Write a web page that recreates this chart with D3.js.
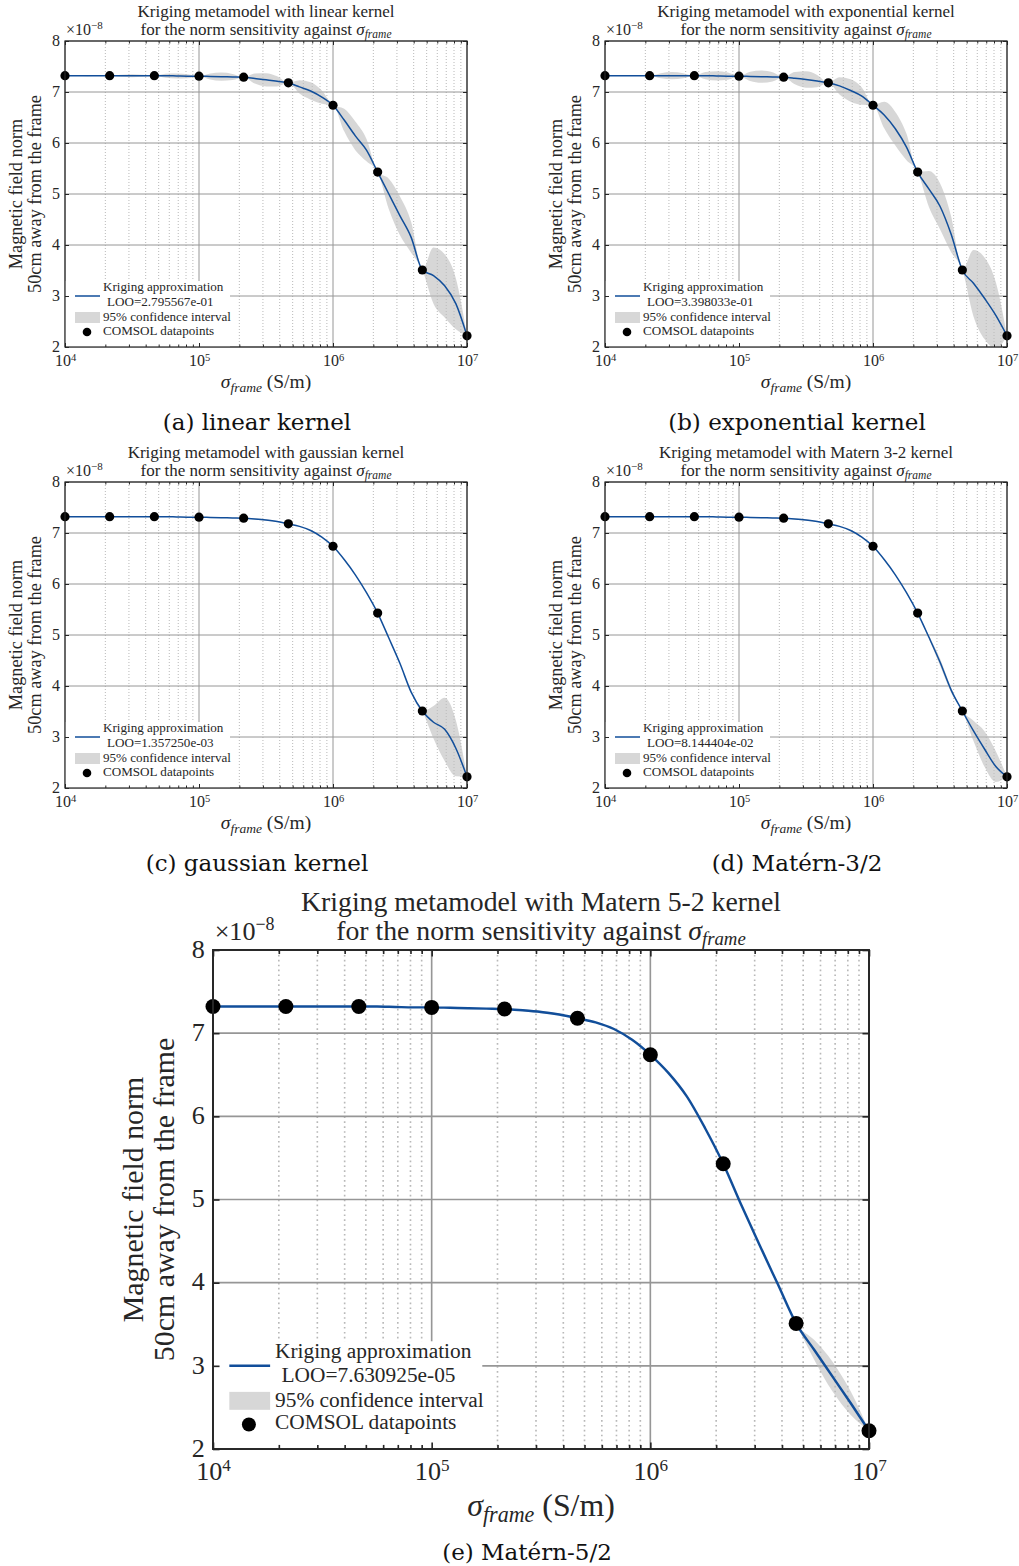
<!DOCTYPE html>
<html><head><meta charset="utf-8">
<script src="https://cdn.jsdelivr.net/npm/d3@7"></script>
<style>
body{margin:0;background:#fff;}
svg text{font-family:"Liberation Serif","Times New Roman",serif;fill:#262626;}
svg text.caption{font-family:"DejaVu Serif",serif;fill:#111;}
</style></head><body>
<svg id="chart" width="1019" height="1566"></svg>
<script>
// ---------------- data ----------------
const sigmaData = [1e4, 2.154e4, 4.642e4, 1e5, 2.154e5, 4.642e5, 1e6, 2.154e6, 4.642e6, 1e7];
const normData = [7.32, 7.32, 7.32, 7.31, 7.29, 7.18, 6.74, 5.43, 3.51, 2.22];

const sigmaGrid = [
 1.000e4,1.212e4,1.468e4,1.778e4,2.154e4,2.610e4,3.162e4,3.831e4,4.642e4,5.623e4,6.813e4,8.254e4,
 1.000e5,1.212e5,1.468e5,1.778e5,2.154e5,2.610e5,3.162e5,3.831e5,4.642e5,5.623e5,6.813e5,8.254e5,
 1.000e6,1.212e6,1.468e6,1.778e6,2.154e6,2.610e6,3.162e6,3.831e6,4.642e6,5.623e6,6.813e6,8.254e6,
 1.000e7];

const meanLinear = [7.32,7.32,7.32,7.32, 7.32,7.32,7.32,7.32, 7.32,7.32,7.315,7.31,
 7.31,7.305,7.30,7.295, 7.29,7.265,7.24,7.21, 7.18,7.10,7.02,6.90,
 6.74,6.45,6.14,5.86, 5.43,5.00,4.57,4.15, 3.51,3.40,3.20,2.85, 2.22];
const ciLinear = [0,.007,.01,.007, 0,.02,.03,.02, 0,.04,.05,.04,
 0,.06,.08,.06, 0,.10,.13,.10, 0,.13,.17,.13,
 0,.22,.28,.22, 0,.30,.38,.30, 0,.55,.62,.50, 0];

const meanExponential = [7.32,7.32,7.32,7.32, 7.32,7.32,7.32,7.32, 7.32,7.32,7.315,7.31,
 7.31,7.305,7.30,7.295, 7.29,7.27,7.245,7.215, 7.18,7.12,7.03,6.92,
 6.74,6.55,6.28,5.92, 5.43,5.10,4.76,4.21, 3.51,3.25,2.95,2.62, 2.22];
const ciExponential = [0,.003,.005,.003, 0,.05,.07,.05, 0,.07,.09,.07,
 0,.09,.12,.09, 0,.12,.16,.12, 0,.17,.22,.17,
 0,.26,.33,.26, 0,.35,.45,.35, 0,.65,.80,.65, 0];

const meanGaussian = [7.32,7.32,7.32,7.32, 7.32,7.32,7.32,7.32, 7.32,7.32,7.315,7.31,
 7.31,7.305,7.30,7.295, 7.29,7.275,7.255,7.225, 7.18,7.13,7.05,6.92,
 6.74,6.48,6.18,5.83, 5.43,4.94,4.44,3.88, 3.51,3.29,3.15,2.78, 2.22];
const ciGaussian = [0,0,0,0, 0,0,0,0, 0,0,0,0,
 0,0,0,0, 0,.01,.015,.01, 0,0,0,0,
 0,0,0,0, 0,0,0,0, 0,.32,.62,.55, 0];

const meanMatern32 = [7.32,7.32,7.32,7.32, 7.32,7.32,7.32,7.32, 7.32,7.32,7.315,7.31,
 7.31,7.305,7.30,7.295, 7.29,7.275,7.255,7.225, 7.18,7.13,7.05,6.92,
 6.74,6.48,6.18,5.83, 5.43,4.96,4.47,3.92, 3.51,3.12,2.76,2.42, 2.22];
const ciMatern32 = [0,0,0,0, 0,0,0,0, 0,0,0,0,
 0,0,0,0, 0,.01,.015,.01, 0,0,0,0,
 0,0,0,0, 0,.03,.07,.05, 0,.20,.35,.30, 0];

const meanMatern52 = [7.32,7.32,7.32,7.32, 7.32,7.32,7.32,7.32, 7.32,7.32,7.315,7.31,
 7.31,7.305,7.30,7.295, 7.29,7.275,7.255,7.225, 7.18,7.13,7.05,6.92,
 6.74,6.52,6.24,5.86, 5.43,4.93,4.45,3.98, 3.51,3.19,2.87,2.55, 2.22];
const ciMatern52 = [0,0,0,0, 0,0,0,0, 0,0,0,0,
 0,0,0,0, 0,.01,.015,.01, 0,0,0,0,
 0,0,0,0, 0,0,0,0, 0,.12,.18,.14, 0];

const kernelNames = ['linear', 'exponential', 'gaussian', 'Matern 3-2', 'Matern 5-2'];
const looValues = ['2.795567e-01', '3.398033e-01', '1.357250e-03', '8.144404e-02', '7.630925e-05'];
const captions = ['(a) linear kernel', '(b) exponential kernel', '(c) gaussian kernel', '(d) Matérn-3/2', '(e) Matérn-5/2'];
const xTickExps = [4, 5, 6, 7];
const yTicks = [2, 3, 4, 5, 6, 7, 8];

// ---------------- drawing ----------------
const svg = d3.select('#chart');
svg.append('rect').attr('width', 1019).attr('height', 1566).attr('fill', '#fff');
const defs = svg.append('defs');
const SERIF = '"Liberation Serif","Times New Roman",serif';
const INK = '#262626';
const BLUE = '#114e9a';

const panels = [
  {L: 65,  T: 41,  W: 402, H: 306, s: 1, mean: meanLinear, ci: ciLinear, capX: 257, capY: 430},
  {L: 605, T: 41,  W: 402, H: 306, s: 1, mean: meanExponential, ci: ciExponential, capX: 797, capY: 430},
  {L: 65,  T: 482, W: 402, H: 306, s: 1, mean: meanGaussian, ci: ciGaussian, capX: 257, capY: 871},
  {L: 605, T: 482, W: 402, H: 306, s: 1, mean: meanMatern32, ci: ciMatern32, capX: 797, capY: 871},
  {L: 213, T: 950, W: 656, H: 499, s: 1.632, mean: meanMatern52, ci: ciMatern52, capX: 527, capY: 1560}
];

panels.forEach((p, idx) => {
  const s = p.s, L = p.L, T = p.T, R = p.L + p.W, B = p.T + p.H;
  const x = d3.scaleLog().domain([1e4, 1e7]).range([L, R]);
  const y = d3.scaleLinear().domain([2, 8]).range([B, T]);
  const g = svg.append('g');
  const clipId = 'clip' + idx;
  defs.append('clipPath').attr('id', clipId).append('rect')
    .attr('x', L).attr('y', T).attr('width', p.W).attr('height', p.H);

  // grid
  const allX = x.ticks();
  const isMajor = v => Math.abs(Math.log10(v) - Math.round(Math.log10(v))) < 1e-9;
  const minorX = allX.filter(v => !isMajor(v));
  const majorX = xTickExps.map(e => Math.pow(10, e));
  const grid = g.append('g');
  grid.selectAll('.gmin').data(minorX).join('line')
    .attr('x1', d => x(d)).attr('x2', d => x(d)).attr('y1', T).attr('y2', B)
    .attr('stroke', '#b8b8b8').attr('stroke-width', 1 * s).attr('stroke-dasharray', `${1 * s},${2 * s}`);
  grid.selectAll('.gmaj').data(majorX).join('line')
    .attr('x1', d => x(d)).attr('x2', d => x(d)).attr('y1', T).attr('y2', B)
    .attr('stroke', '#969696').attr('stroke-width', 1 * s);
  grid.selectAll('.gy').data(yTicks).join('line')
    .attr('x1', L).attr('x2', R).attr('y1', d => y(d)).attr('y2', d => y(d))
    .attr('stroke', '#969696').attr('stroke-width', 1 * s);

  // confidence band
  const rows = sigmaGrid.map((sg, i) => ({sg, m: p.mean[i], c: p.ci[i]}));
  const area = d3.area().x(d => x(d.sg)).y0(d => y(d.m - d.c)).y1(d => y(d.m + d.c)).curve(d3.curveMonotoneX);
  g.append('path').datum(rows).attr('d', area).attr('clip-path', `url(#${clipId})`)
    .attr('fill', '#bdbdbd').attr('fill-opacity', 0.6).attr('stroke', 'none');

  // mean line
  const line = d3.line().x(d => x(d.sg)).y(d => y(d.m)).curve(d3.curveMonotoneX);
  g.append('path').datum(rows).attr('d', line).attr('clip-path', `url(#${clipId})`)
    .attr('fill', 'none').attr('stroke', BLUE).attr('stroke-width', 1.5 * s);

  // data points
  g.selectAll('.pt').data(sigmaData.map((v, i) => [v, normData[i]])).join('circle')
    .attr('cx', d => x(d[0])).attr('cy', d => y(d[1])).attr('r', 4.6 * s).attr('fill', '#000');

  // legend
  const lg = g.append('g');
  lg.append('rect').attr('x', L).attr('y', B - 66 * s).attr('width', 165 * s).attr('height', 66 * s).attr('fill', '#fff');
  lg.append('line').attr('x1', L + 10 * s).attr('x2', L + 35 * s).attr('y1', B - 51 * s).attr('y2', B - 51 * s)
    .attr('stroke', BLUE).attr('stroke-width', 1.5 * s);
  lg.append('rect').attr('x', L + 10 * s).attr('y', B - 35 * s).attr('width', 25 * s).attr('height', 11 * s)
    .attr('fill', '#bdbdbd').attr('fill-opacity', 0.6);
  lg.append('circle').attr('cx', L + 22 * s).attr('cy', B - 15 * s).attr('r', 4.3 * s).attr('fill', '#000');
  const lfs = 13.1 * s;
  [['Kriging approximation', 38, 56], ['LOO=' + looValues[idx], 42, 41], ['95% confidence interval', 38, 26], ['COMSOL datapoints', 38, 12]]
    .forEach(t => lg.append('text').attr('x', L + t[1] * s).attr('y', B - t[2] * s).attr('font-size', lfs).text(t[0]));

  // axes
  const styleAxis = a => {
    a.select('.domain').remove();
    a.attr('font-family', SERIF).attr('font-size', 16 * s);
    a.selectAll('line').attr('stroke', INK).attr('stroke-width', 1 * s);
    a.selectAll('text').attr('fill', INK);
  };
  g.append('g').attr('transform', `translate(${L},0)`)
    .call(d3.axisLeft(y).tickValues(yTicks).tickSize(-4 * s).tickPadding(5 * s).tickFormat(d3.format('d'))).call(styleAxis)
    .call(a => a.selectAll('text').attr('dy', '0.28em'));
  g.append('g').attr('transform', `translate(${R},0)`)
    .call(d3.axisRight(y).tickValues(yTicks).tickSize(-4 * s).tickFormat('')).call(styleAxis);
  g.append('g').attr('transform', `translate(0,${B})`)
    .call(d3.axisBottom(x).tickValues(minorX).tickSize(-2.5 * s).tickFormat('')).call(styleAxis);
  g.append('g').attr('transform', `translate(0,${T})`)
    .call(d3.axisTop(x).tickValues(minorX).tickSize(-2.5 * s).tickFormat('')).call(styleAxis);
  g.append('g').attr('transform', `translate(0,${T})`)
    .call(d3.axisTop(x).tickValues(majorX).tickSize(-4 * s).tickFormat('')).call(styleAxis);
  const xb = g.append('g').attr('transform', `translate(0,${B})`)
    .call(d3.axisBottom(x).tickValues(majorX).tickSize(-4 * s).tickFormat(() => '10')).call(styleAxis);
  xb.selectAll('text').attr('y', 19 * s).attr('dy', null)
    .append('tspan').attr('font-size', 10.5 * s).attr('dy', -5.5 * s).text(d => Math.round(Math.log10(d)));

  g.append('rect').attr('x', L).attr('y', T).attr('width', p.W).attr('height', p.H)
    .attr('fill', 'none').attr('stroke', INK).attr('stroke-width', 1.2 * s);

  // exponent label
  const ex = g.append('text').attr('x', L + 1 * s).attr('y', T - 6 * s).attr('font-size', 16 * s);
  ex.append('tspan').text('×10');
  ex.append('tspan').attr('font-size', 11 * s).attr('dy', -6.5 * s).text('−8');

  // title
  const cx = (L + R) / 2;
  g.append('text').attr('x', cx).attr('y', T - 24 * s).attr('text-anchor', 'middle').attr('font-size', 17 * s)
    .text(`Kriging metamodel with ${kernelNames[idx]} kernel`);
  const t2 = g.append('text').attr('x', cx).attr('y', T - 6 * s).attr('text-anchor', 'middle').attr('font-size', 17 * s);
  t2.append('tspan').text('for the norm sensitivity against ');
  t2.append('tspan').attr('font-style', 'italic').text('σ');
  t2.append('tspan').attr('font-style', 'italic').attr('font-size', 11.5 * s).attr('dy', 3 * s).text('frame');

  // x label
  const xl = g.append('text').attr('x', cx).attr('y', B + 41 * s).attr('text-anchor', 'middle').attr('font-size', 19.5 * s);
  xl.append('tspan').attr('font-style', 'italic').text('σ');
  xl.append('tspan').attr('font-style', 'italic').attr('font-size', 13.5 * s).attr('dy', 4 * s).text('frame');
  xl.append('tspan').attr('dy', -4 * s).text(' (S/m)');

  // y label
  const cy = (T + B) / 2;
  [['Magnetic field norm', 43], ['50cm away from the frame', 24]].forEach(t => {
    g.append('text').attr('transform', `translate(${L - t[1] * s},${cy}) rotate(-90)`)
      .attr('text-anchor', 'middle').attr('font-size', 18.3 * s).text(t[0]);
  });

  // caption
  svg.append('text').attr('class', 'caption').attr('x', p.capX).attr('y', p.capY).attr('text-anchor', 'middle')
    .attr('font-size', 23).text(captions[idx]);
});
</script>
</body></html>
